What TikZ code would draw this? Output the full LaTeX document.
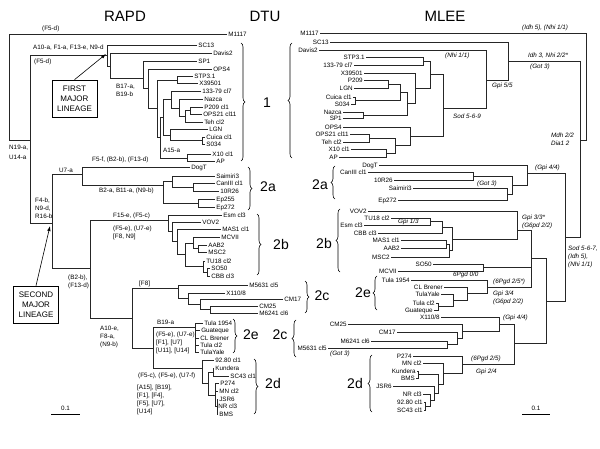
\documentclass[tikz,border=0pt]{standalone}
\usepackage{fontspec}
\setmainfont{Liberation Sans}
\usetikzlibrary{arrows.meta,decorations.pathreplacing}

\begin{document}
\begin{tikzpicture}[x=1pt,y=-1pt,
  twig/.style={line width=0.6pt,draw=black!85},
  taxon/.style={font=\fontsize{6.3}{7}\selectfont,inner sep=1pt,text height=4.5pt,text depth=0pt},
  brlab/.style={font=\fontsize{6.3}{8}\selectfont,inner sep=0pt,align=left},
  enz/.style={font=\fontsize{6.3}{8}\selectfont\itshape,inner sep=0pt,align=left},
  clade/.style={font=\fontsize{14}{14}\selectfont,inner sep=0pt},
  brc/.style={decorate,decoration={brace,amplitude=4pt},line width=0.6pt},
  ttl/.style={font=\fontsize{15}{15}\selectfont,inner sep=0pt},
  lineage/.style={draw,line width=0.6pt,align=center,font=\fontsize{8}{10}\selectfont,
    minimum width=45pt,minimum height=37pt,inner sep=0pt},
  scalebar/.style={line width=0.8pt}]
\useasboundingbox (0,0) rectangle (600,449);

\node[ttl] (t-rapd) at (125,16) {RAPD};
\node[ttl] (t-dtu) at (265,16) {DTU};
\node[ttl] (t-mlee) at (445,16) {MLEE};

% RAPD tree
\draw[twig] (227,34) node[taxon,right] (r-m1117) {M1117} -- (9,34) -- (9,140) -- (30,140);
\draw[twig] (107,55) -- (30,55) -- (30,223) -- (52,223);
\draw[twig] (197,45) node[taxon,right] (r-sc13) {SC13} -- (107,45) -- (107,66) -- (110,66);
\draw[twig] (212,53) node[taxon,right] (r-davis2) {Davis2} -- (110,53) -- (110,78) -- (143,78);
\draw[twig] (197,61) node[taxon,right] (r-sp1) {SP1} -- (143,61) -- (143,88) -- (148,88);
\draw[twig] (212,69) node[taxon,right] (r-ops4) {OPS4} -- (148,69) -- (148,108) -- (157,108);
\draw[twig] (177,80) -- (157,80) -- (157,137) -- (160,137);
\draw[twig] (193,76) node[taxon,right] (r-stp) {STP3.1} -- (177,76) -- (177,83) -- (198,83) node[taxon,right] (r-x395) {X39501};
\draw[twig] (163,117) -- (160,117) -- (160,158) -- (187,158);
\draw[twig] (171,99) -- (163,99) -- (163,135) -- (170,135);
\draw[twig] (201,91) node[taxon,right] (r-133) {133-79 cl7} -- (171,91) -- (171,108) -- (179,108);
\draw[twig] (203,99) node[taxon,right] (r-nazca) {Nazca} -- (179,99) -- (179,116) -- (185,116);
\draw[twig] (190,110.5) -- (185,110.5) -- (185,122) -- (203,122) node[taxon,right] (r-teh) {Teh cl2};
\draw[twig] (203,107) node[taxon,right] (r-p209) {P209 cl1} -- (190,107) -- (190,114) -- (202,114) node[taxon,right] (r-ops21) {OPS21 cl11};
\draw[twig] (208,129) node[taxon,right] (r-lgn) {LGN} -- (170,129) -- (170,140.5) -- (202,140.5);
\draw[twig] (205,137) node[taxon,right] (r-cuica) {Cuica cl1} -- (202,137) -- (202,144) -- (205,144) node[taxon,right] (r-s034) {S034};
\draw[twig] (211,154) node[taxon,right] (r-x10) {X10 cl1} -- (187,154) -- (187,161) -- (215,161) node[taxon,right] (r-ap) {AP};

\draw[twig] (82,174) -- (52,174) -- (52,268) -- (90,268);
\draw[twig] (190,167) node[taxon,right] (r-dogt) {DogT} -- (82,167) -- (82,185) -- (163,185);
\draw[twig] (172,181) -- (163,181) -- (163,203) -- (198,203);
\draw[twig] (215,176) node[taxon,right] (r-saim) {Saimiri3} -- (172,176) -- (172,187) -- (193,187);
\draw[twig] (215,183) node[taxon,right] (r-can) {CanIII cl1} -- (193,183) -- (193,191) -- (219,191) node[taxon,right] (r-10r) {10R26};
\draw[twig] (215,199) node[taxon,right] (r-ep255) {Ep255} -- (198,199) -- (198,207) -- (215,207) node[taxon,right] (r-ep272) {Ep272};
\draw[twig] (168,220) -- (90,220) -- (90,318) -- (132,318);
\draw[twig] (222,215) node[taxon,right] (r-esm) {Esm cl3} -- (168,215) -- (168,231) -- (172,231);
\draw[twig] (201,222) node[taxon,right] (r-vov) {VOV2} -- (172,222) -- (172,241) -- (177,241);
\draw[twig] (221,229) node[taxon,right] (r-mas) {MAS1 cl1} -- (177,229) -- (177,254) -- (185,254);
\draw[twig] (193,243) -- (185,243) -- (185,266) -- (203,266);
\draw[twig] (220,237) node[taxon,right] (r-mcv) {MCVII} -- (193,237) -- (193,248.5) -- (198,248.5);
\draw[twig] (207,245) node[taxon,right] (r-aab) {AAB2} -- (198,245) -- (198,252) -- (207,252) node[taxon,right] (r-msc) {MSC2};
\draw[twig] (205,261) node[taxon,right] (r-tu18) {TU18 cl2} -- (203,261) -- (203,272) -- (207,272);
\draw[twig] (210,268) node[taxon,right] (r-so50) {SO50} -- (207,268) -- (207,276) -- (210,276) node[taxon,right] (r-cbb) {CBB cl3};
\draw[twig] (178,288) -- (132,288) -- (132,348) -- (153,348);
\draw[twig] (248,285) node[taxon,right] (r-m5631) {M5631 cl5} -- (178,285) -- (178,298.5) -- (188,298.5);
\draw[twig] (225,293) node[taxon,right] (r-x110) {X110/8} -- (188,293) -- (188,304) -- (200,304);
\draw[twig] (283,299) node[taxon,right] (r-cm17) {CM17} -- (200,299) -- (200,309.5) -- (210,309.5);
\draw[twig] (258,306) node[taxon,right] (r-cm25) {CM25} -- (210,306) -- (210,313) -- (258,313) node[taxon,right] (r-m6241) {M6241 cl6};
\draw[twig] (195,327) -- (153,327) -- (153,368) -- (202,368);
\draw[twig] (203,323) node[taxon,right] (r-tula54) {Tula 1954} -- (195,323) -- (195,352) -- (199,352) node[taxon,right] (r-yale) {TulaYale};
\draw[twig] (195,330) -- (200,330) node[taxon,right] (r-guat) {Guateque}
  (195,338) -- (199,338) node[taxon,right] (r-clb) {CL Brener}
  (195,345) -- (199,345) node[taxon,right] (r-tulacl2) {Tula cl2};
\draw[twig] (214,360) node[taxon,right] (r-9280) {92.80 cl1} -- (202,360) -- (202,383) -- (208,383);
\draw[twig] (213,372) -- (208,372) -- (208,395) -- (215,395);
\draw[twig] (214,368) node[taxon,right] (r-kund) {Kundera} -- (213,368) -- (213,376) -- (229,376) node[taxon,right] (r-sc43) {SC43 cl1};
\draw[twig] (219,383) node[taxon,right] (r-p274) {P274} -- (215,383) -- (215,406) -- (217,406);
\draw[twig] (215,391) -- (218,391) node[taxon,right] (r-mn) {MN cl2};
\draw[twig] (218,399) node[taxon,right] (r-jsr) {JSR6} -- (217,399) -- (217,414) -- (218,414) node[taxon,right] (r-bms) {BMS}
  (217,406) node[taxon,right] (r-nr) {NR cl3};

% RAPD branch labels
\node[brlab,anchor=west] (l-f5d) at (42,29) {(F5-d)};
\node[brlab,anchor=west] (l-a10) at (33,48) {A10-a, F1-a, F13-e, N9-d};
\node[brlab,anchor=west] (l-f5d2) at (34,62) {(F5-d)};
\node[brlab,anchor=north west] (l-n19) at (9,144.5) {N19-a,\\[2pt]U14-a};
\node[brlab,anchor=north west] (l-b17) at (116,83.5) {B17-a,\\B19-b};
\node[brlab,anchor=west] (l-a15) at (163,150) {A15-a};
\node[brlab,anchor=north west] (l-f4) at (35,197.5) {F4-b,\\N9-d,\\R16-b};
\node[brlab,anchor=west] (l-u7) at (59,170) {U7-a};
\node[brlab,anchor=west] (l-f5f) at (92,160) {F5-f, (B2-b), (F13-d)};
\node[brlab,anchor=west] (l-b2a) at (99,191) {B2-a, B11-a, (N9-b)};
\node[brlab,anchor=west] (l-f15) at (113,216) {F15-e, (F5-c)};
\node[brlab,anchor=north west] (l-f5e) at (113,225.5) {(F5-e), (U7-e)\\{}[F8, N9]};
\node[brlab,anchor=north west] (l-b2b) at (68,274.5) {(B2-b),\\(F13-d)};
\node[brlab,anchor=west] (l-f8) at (139,284) {[F8]};
\node[brlab,anchor=north west] (l-a10e) at (100,325.5) {A10-e,\\F8-a,\\(N9-b)};
\node[brlab,anchor=west] (l-b19) at (157,322) {B19-a};
\node[brlab,anchor=north west] (l-f5e2) at (156,331.5) {(F5-e), (U7-e)\\{}[F1], [U7]\\{}[U11], [U14]};
\node[brlab,anchor=west] (l-f5c) at (138,376) {(F5-c), (F5-e), (U7-f)};
\node[brlab,anchor=north west] (l-a15b) at (137,384.5) {[A15], [B19],\\{}[F1], [F4],\\{}[F5], [U7],\\{}[U14]};

% lineage boxes
\node[lineage] (first) at (74.5,98.5) {FIRST\\MAJOR\\LINEAGE};
\coordinate (fl-tip) at (106,54);
\draw[-{Latex[length=5pt,width=3.5pt]},line width=0.6pt] (first.north) -- (fl-tip);
\node[lineage] (second) at (36,304.5) {SECOND\\MAJOR\\LINEAGE};
\coordinate (sl-tip) at (50,226);
\draw[-{Latex[length=5pt,width=3.5pt]},line width=0.6pt] (second.north) -- (sl-tip);

% MLEE tree
\draw[twig] (320,33) node[taxon,left] (m-m1117) {M1117} -- (586,33) -- (586,140) -- (580,140);
\draw[twig] (508,61) -- (580,61) -- (580,237) -- (565,237);
\draw[twig] (330,42) node[taxon,left] (m-sc13) {SC13} -- (508,42) -- (508,80) -- (486,80);
\draw[twig] (319,50) node[taxon,left] (m-davis2) {Davis2} -- (486,50) -- (486,108) -- (443,108);
\draw[twig] (430,74.5) -- (443,74.5) -- (443,136) -- (410,136);
\draw[twig] (423,61) -- (430,61) -- (430,88) -- (415,88);
\draw[twig] (366,57) node[taxon,left] (m-stp) {STP3.1} -- (423,57) -- (423,65) -- (354,65) node[taxon,left] (m-133) {133-79 cl7};
\draw[twig] (364,73) node[taxon,left] (m-x395) {X39501} -- (415,73) -- (415,103.5) -- (407,103.5);
\draw[twig] (400,92) -- (407,92) -- (407,115) -- (363,115);
\draw[twig] (388,84) -- (400,84) -- (400,100.5) -- (355,100.5);
\draw[twig] (364,80) node[taxon,left] (m-p209) {P209} -- (388,80) -- (388,88) -- (354,88) node[taxon,left] (m-lgn) {LGN};
\draw[twig] (353,97) node[taxon,left] (m-cuica) {Cuica cl1} -- (355,97) -- (355,104) -- (351,104) node[taxon,left] (m-s034) {S034};
\draw[twig] (343,112) node[taxon,left] (m-nazca) {Nazca} -- (363,112) -- (363,118) -- (343,118) node[taxon,left] (m-sp1) {SP1};
\draw[twig] (343,127) node[taxon,left] (m-ops4) {OPS4} -- (410,127) -- (410,145.5) -- (395,145.5);
\draw[twig] (369,138) -- (395,138) -- (395,153) -- (386,153);
\draw[twig] (350,134) node[taxon,left] (m-ops21) {OPS21 cl11} -- (369,134) -- (369,142) -- (343,142) node[taxon,left] (m-teh) {Teh cl2};
\draw[twig] (351,149) node[taxon,left] (m-x10) {X10 cl1} -- (386,149) -- (386,157) -- (339,157) node[taxon,left] (m-ap) {AP};

\draw[twig] (527,173) -- (565,173) -- (565,301) -- (546,301);
\draw[twig] (379,165) node[taxon,left] (m-dogt) {DogT} -- (527,165) -- (527,185) -- (512,185);
\draw[twig] (473,176) -- (512,176) -- (512,194) -- (507,194);
\draw[twig] (368,172) node[taxon,left] (m-can) {CanIII cl1} -- (473,172) -- (473,180) -- (394,180) node[taxon,left] (m-10r) {10R26};
\draw[twig] (413,188) node[taxon,left] (m-saim) {Saimiri3} -- (507,188) -- (507,200) -- (398,200) node[taxon,left] (m-ep272) {Ep272};
\draw[twig] (531,258) -- (546,258) -- (546,343) -- (514,343);
\draw[twig] (517,230) -- (531,230) -- (531,287) -- (487,287) (531,267.5) -- (483,267.5);
\draw[twig] (368,211) node[taxon,left] (m-vov) {VOV2} -- (517,211) -- (517,239) -- (452,239);
\draw[twig] (442,227) -- (452,227) -- (452,250.5) -- (449,250.5);
\draw[twig] (430,221.5) -- (442,221.5) -- (442,233) -- (378,233) node[taxon,left] (m-cbb) {CBB cl3};
\draw[twig] (391,218) node[taxon,left] (m-tu18) {TU18 cl2} -- (430,218) -- (430,225) -- (364,225) node[taxon,left] (m-esm) {Esm cl3};
\draw[twig] (446,244) -- (449,244) -- (449,257) -- (391,257) node[taxon,left] (m-msc) {MSC2};
\draw[twig] (401,240) node[taxon,left] (m-mas) {MAS1 cl1} -- (446,240) -- (446,248) -- (401,248) node[taxon,left] (m-aab) {AAB2};
\draw[twig] (433,264) node[taxon,left] (m-so50) {SO50} -- (483,264) -- (483,271) -- (398,271) node[taxon,left] (m-mcv) {MCVII};
\draw[twig] (411,280) node[taxon,left] (m-tula54) {Tula 1954} -- (487,280) -- (487,293.5) -- (467,293.5);
\draw[twig] (444,287) node[taxon,left] (m-clb) {CL Brener} -- (467,287) -- (467,300) -- (453,300);
\draw[twig] (441,294) node[taxon,left] (m-yale) {TulaYale} -- (453,294) -- (453,306.5) -- (438,306.5);
\draw[twig] (436,303) node[taxon,left] (m-tulacl2) {Tula cl2} -- (438,303) -- (438,310) -- (434,310) node[taxon,left] (m-guat) {Guateque};
\draw[twig] (499,324) -- (514,324) -- (514,364) -- (462,364);
\draw[twig] (441,317) node[taxon,left] (m-x110) {X110/8} -- (499,317) -- (499,331) -- (462,331);
\draw[twig] (348,324) node[taxon,left] (m-cm25) {CM25} -- (462,324) -- (462,338) -- (457,338);
\draw[twig] (397,332) node[taxon,left] (m-cm17) {CM17} -- (457,332) -- (457,344.5) -- (447,344.5);
\draw[twig] (371,341) node[taxon,left] (m-m6241) {M6241 cl6} -- (447,341) -- (447,348) -- (328,348) node[taxon,left] (m-m5631) {M5631 cl5};
\draw[twig] (413,356) node[taxon,left] (m-p274) {P274} -- (462,356) -- (462,373.5) -- (443,373.5);
\draw[twig] (423,363) node[taxon,left] (m-mn) {MN cl2} -- (443,363) -- (443,384) -- (438,384);
\draw[twig] (418,374.5) -- (438,374.5) -- (438,393) -- (434,393);
\draw[twig] (417,371) node[taxon,left] (m-kund) {Kundera} -- (418,371) -- (418,378) -- (416,378) node[taxon,left] (m-bms) {BMS};
\draw[twig] (393,386) node[taxon,left] (m-jsr) {JSR6} -- (434,386) -- (434,400) -- (430,400);
\draw[twig] (423,394) node[taxon,left] (m-nr) {NR cl3} -- (430,394) -- (430,406) -- (425,406);
\draw[twig] (424,402) node[taxon,left] (m-9280) {92.80 cl1} -- (425,402) -- (425,410) -- (424,410) node[taxon,left] (m-sc43) {SC43 cl1};

% MLEE branch labels
\node[enz,anchor=west] (e-idh5) at (522,28) {(Idh 5), (Nhi 1/1)};
\node[enz,anchor=west] (e-idh3) at (528,56) {Idh 3, Nhi 2/2*};
\node[enz,anchor=west] (e-got1) at (530,67) {(Got 3)};
\node[enz,anchor=west] (e-nhi) at (445,56) {(Nhi 1/1)};
\node[enz,anchor=west] (e-gpi55) at (492,86) {Gpi 5/5};
\node[enz,anchor=west] (e-sod9) at (453,116) {Sod 5-6-9};
\node[enz,anchor=north west] (e-mdh) at (551,132.5) {Mdh 2/2\\Dia1 2};
\node[enz,anchor=west] (e-gpi44a) at (535,168) {(Gpi 4/4)};
\node[enz,anchor=west] (e-got2) at (477,184) {(Got 3)};
\node[enz,anchor=west] (e-gpi13) at (398,222) {Gpi 1/3};
\node[enz,anchor=north west] (e-gpi33) at (522,214.5) {Gpi 3/3*\\(G6pd 2/2)};
\node[enz,anchor=north west] (e-sod7) at (568,245.5) {Sod 5-6-7,\\(Idh 5),\\(Nhi 1/1)};
\node[enz,anchor=west] (e-pgd00) at (453,275) {6Pgd 0/0};
\node[enz,anchor=west] (e-pgd25s) at (493,282) {(6Pgd 2/5*)};
\node[enz,anchor=north west] (e-gpi34) at (493,290.5) {Gpi 3/4\\(G6pd 2/2)};
\node[enz,anchor=west] (e-gpi44b) at (503,318) {(Gpi 4/4)};
\node[enz,anchor=west] (e-got3) at (330,354) {(Got 3)};
\node[enz,anchor=west] (e-pgd25) at (471,359) {(6Pgd 2/5)};
\node[enz,anchor=west] (e-gpi24) at (476,372) {Gpi 2/4};

% DTU braces
\draw[brc] (241,43) -- (241,161);
\draw[brc] (292,158) -- (292,43);
\node[clade] (d-1) at (267,103) {1};
\draw[brc] (248,167) -- (248,210);
\node[clade] (d-2a-r) at (268,187) {2a};
\draw[brc] (335,199) -- (335,166);
\node[clade] (d-2a-m) at (320,185) {2a};
\draw[brc] (257,214) -- (257,275);
\node[clade] (d-2b-r) at (281,244) {2b};
\draw[brc] (340,272) -- (340,209);
\node[clade] (d-2b-m) at (324,243) {2b};
\draw[brc] (305,281) -- (305,313);
\node[clade] (d-2c-r) at (322,296) {2c};
\draw[brc] (377,310) -- (377,276);
\node[clade] (d-2e-m) at (363,293) {2e};
\draw[brc] (233,319) -- (233,353);
\node[clade] (d-2e-r) at (251,335) {2e};
\draw[brc] (296,357) -- (296,320);
\node[clade] (d-2c-m) at (280,335) {2c};
\draw[brc] (254,359) -- (254,414);
\node[clade] (d-2d-r) at (273,383) {2d};
\draw[brc] (372,412) -- (372,355);
\node[clade] (d-2d-m) at (355,383) {2d};

% scale bars
\draw[scalebar] (51,414) -- (80,414);
\node[brlab] (s-r) at (65.5,408) {0.1};
\draw[scalebar] (522,414) -- (550,414);
\node[brlab] (s-m) at (536,408) {0.1};
\end{tikzpicture}
\end{document}
